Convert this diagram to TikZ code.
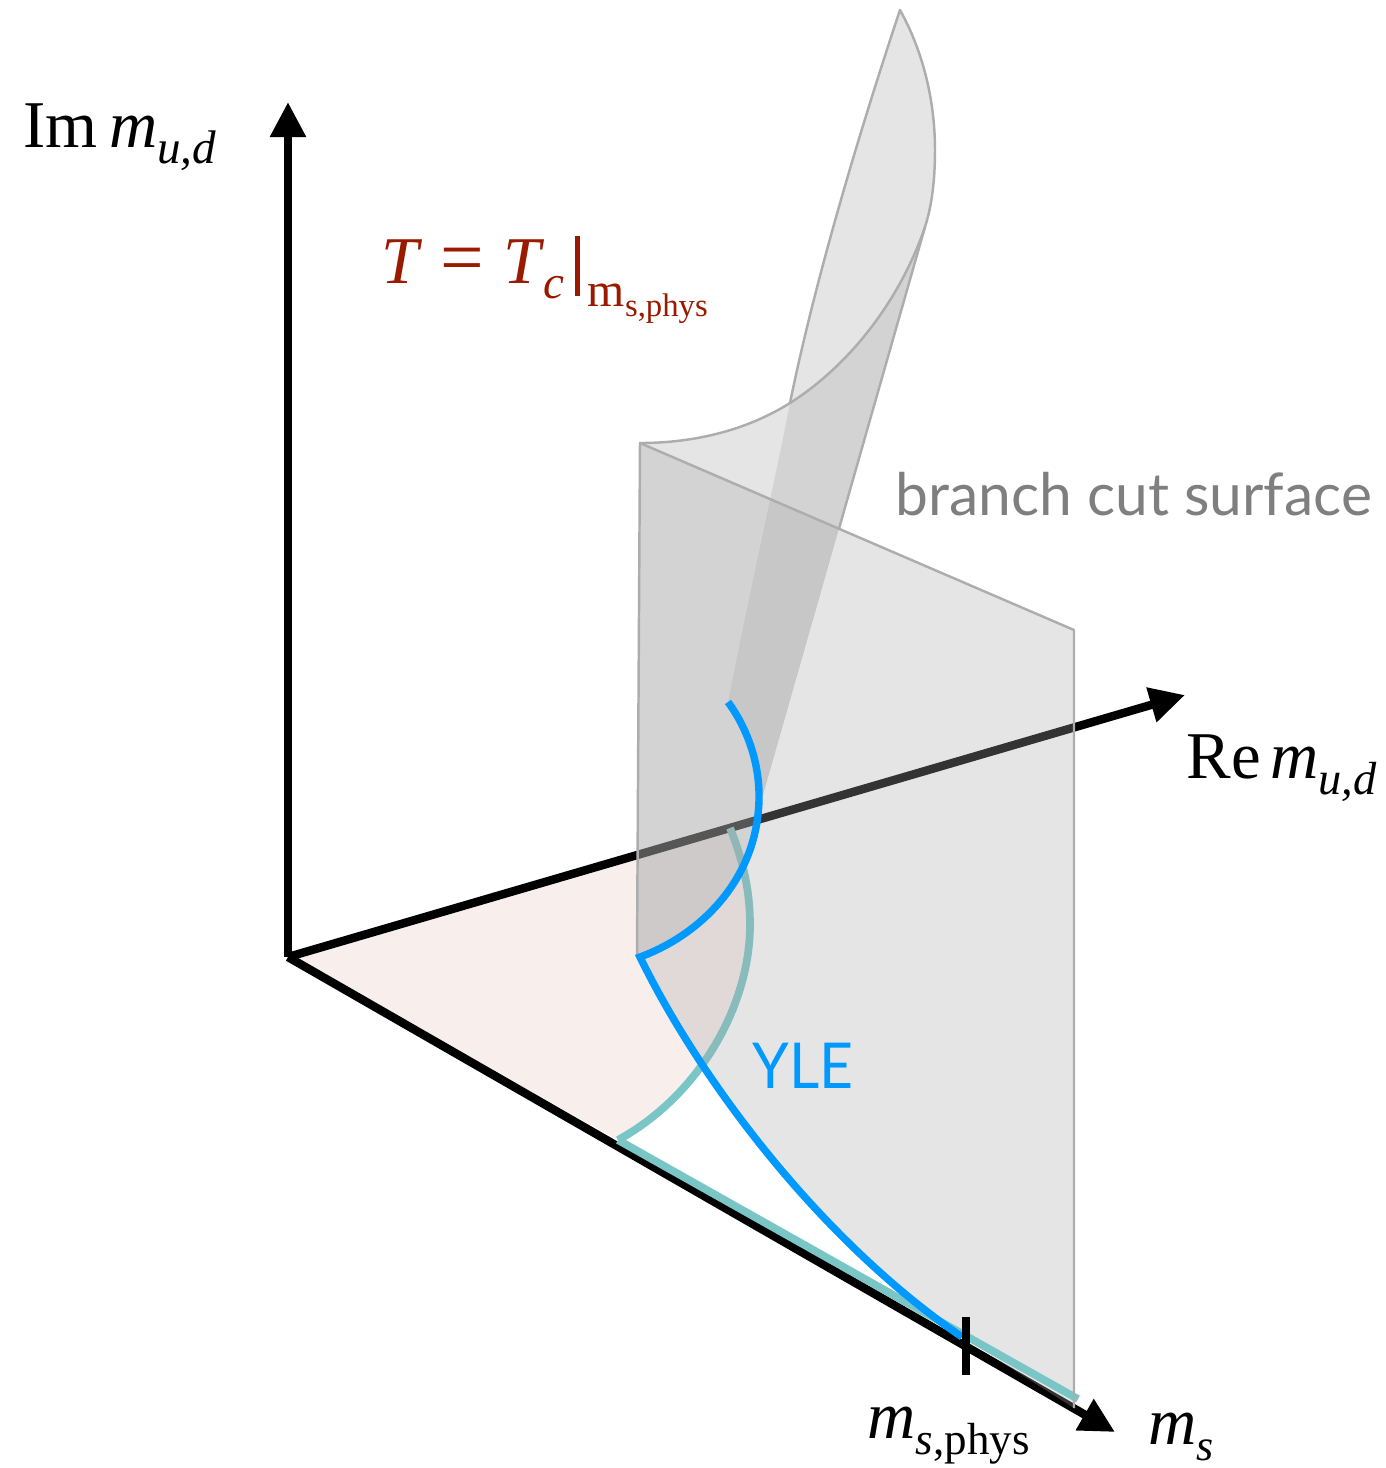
\documentclass[tikz,border=0pt]{standalone}
\usepackage{fontspec}
\setmainfont{Liberation Serif}
\newfontfamily\labelsans{Lato}
\usetikzlibrary{arrows.meta,calc}
\definecolor{tealc}{HTML}{7AC5C5}
\definecolor{bluec}{HTML}{0099FF}
\definecolor{pinkc}{HTML}{F8EEEC}
\definecolor{redc}{HTML}{9A1A00}
\definecolor{surfc}{HTML}{AAAAAA}
\definecolor{edgec}{HTML}{ADADAD}
\definecolor{grayt}{HTML}{7F7F7F}
\newcommand{\lowtext}[3]{\raisebox{#1}{\fontsize{#2}{#2}\selectfont #3}}
\tikzset{
  axisline/.style={line width=2.4pt,black,-{Triangle[length=0.35cm,width=0.34cm]}},
  surffill/.style={fill=surfc,fill opacity=0.3,draw=none},
  surfedge/.style={draw=edgec,line width=0.7pt,line join=round},
  tealline/.style={draw=tealc,line width=2.2pt},
  blueline/.style={draw=bluec,line width=2.1pt,line join=miter},
  txt/.style={inner sep=0pt,anchor=base west,font=\fontsize{19}{19}\selectfont},
  sanstxt/.style={inner sep=0pt,anchor=base west,font=\labelsans\fontsize{16.7}{16.7}\selectfont}
}
\begin{document}
\begin{tikzpicture}[x=0.01cm,y=-0.01cm]
\useasboundingbox (0,0) rectangle (1386,1468);
\coordinate (O) at (288,957);
\coordinate (Yt) at (288,102);
\coordinate (Xt) at (1185,695);
\coordinate (Zt) at (1115,1432);
\coordinate (A) at (640,443);
\coordinate (B) at (1074,630);
\coordinate (C) at (1074,1408);
\coordinate (D) at (637,957);
\coordinate (E) at (962,1337);
\coordinate (Tip) at (900,10);
\coordinate (R) at (925,227);
\coordinate (M) at (790,403);
\coordinate (Bm) at (759,800);
\coordinate (Bq) at (763,795);
\coordinate (Be) at (728,702);
\coordinate (Te) at (618,1140);
\coordinate (Ts) at (730,828);
\coordinate (Tz) at (1078,1399);
\coordinate (Rx) at ($(R)!0.53!(Bq)$);
\coordinate (Tk1) at (966,1317);
\coordinate (Tk2) at (966,1375);
% pink floor
\fill[pinkc] (O) -- (Ts) .. controls (745,865) and (750,895) .. (750,925) .. controls (750,1005) and (700,1095) .. (Te) -- cycle;
% axes
\draw[axisline] (O) -- (Yt);
\draw[axisline] (O) -- (Xt);
\draw[axisline] (O) -- (Zt);
% teal arc (behind surfaces)
\draw[tealline] (Ts) .. controls (745,865) and (750,895) .. (750,925) .. controls (750,1005) and (700,1095) .. (Te);
% surfaces
\path[surffill] (A) -- (B) -- (C) -- (E) .. controls (820,1240) and (700,1080) .. (D) -- cycle;
\path[surffill] (A) .. controls (705,443) and (755,425) .. (M) .. controls (850,365) and (900,300) .. (R) -- (Bq) -- (Bm) .. controls (757,880) and (700,935) .. (D) -- cycle;
\path[surffill] (Tip) .. controls (925,55) and (935,105) .. (935,150) .. controls (935,180) and (932,205) .. (R) -- (Bq) -- (Bm) .. controls (760,760) and (745,725) .. (Be) .. controls (750,590) and (775,480) .. (M) .. controls (815,280) and (860,130) .. (Tip) -- cycle;
% edges
\draw[surfedge] (D) -- (A) -- (B) -- (C);
\draw[surfedge] (A) .. controls (705,443) and (755,425) .. (M) .. controls (850,365) and (900,300) .. (R);
\draw[surfedge] (M) .. controls (815,280) and (860,130) .. (Tip) .. controls (925,55) and (935,105) .. (935,150) .. controls (935,180) and (932,205) .. (R) -- (Rx);
% teal straight + blue
\draw[tealline] (Te) -- (Tz);
\draw[surfedge] (B) -- (C);
\draw[blueline] (Be) .. controls (745,725) and (760,760) .. (Bm) .. controls (757,880) and (700,935) .. (640,957) .. controls (700,1080) and (820,1240) .. (E);
% tick
\draw[line width=2.1pt,black] (Tk1) -- (Tk2);
% labels
\node[txt] (lim) at (23,147) {Im\,\textit{m}\lowtext{-4.8pt}{13.4pt}{\textit{u,d}}};
\node[txt] (lre) at (1186,778) {Re\hspace{2.6pt}\textit{m}\lowtext{-4.8pt}{13.2pt}{\textit{u,d}}};
\node[txt] (lms) at (1148,1444) {\textit{m}\lowtext{-4.8pt}{12.5pt}{\textit{s}}};
\node[txt] (lph) at (867,1438) {\textit{m}\lowtext{-4.8pt}{12.8pt}{\textit{s},phys}};
\node[txt,text=redc] (ltc) at (381,283) {\textit{T}\hspace{5pt}{\fontsize{22}{22}\selectfont =}\hspace{5.5pt}\textit{T}\hspace{-0.3pt}\lowtext{-4.5pt}{13.4pt}{\textit{c}}\hspace{3.1pt}\rule[-3.7pt]{1.4pt}{17.1pt}\hspace{2.2pt}\lowtext{-6.8pt}{13.6pt}{m\lowtext{-2.8pt}{9.3pt}{s,phys}}};
\node[sanstxt,text=grayt] (lbc) at (895,515) {branch cut surface};
\node[sanstxt,text=bluec,font=\labelsans\fontsize{18}{18}\selectfont] (lyl) at (752,1088) {\scalebox{0.93}[1]{YLE}};
\end{tikzpicture}
\end{document}
